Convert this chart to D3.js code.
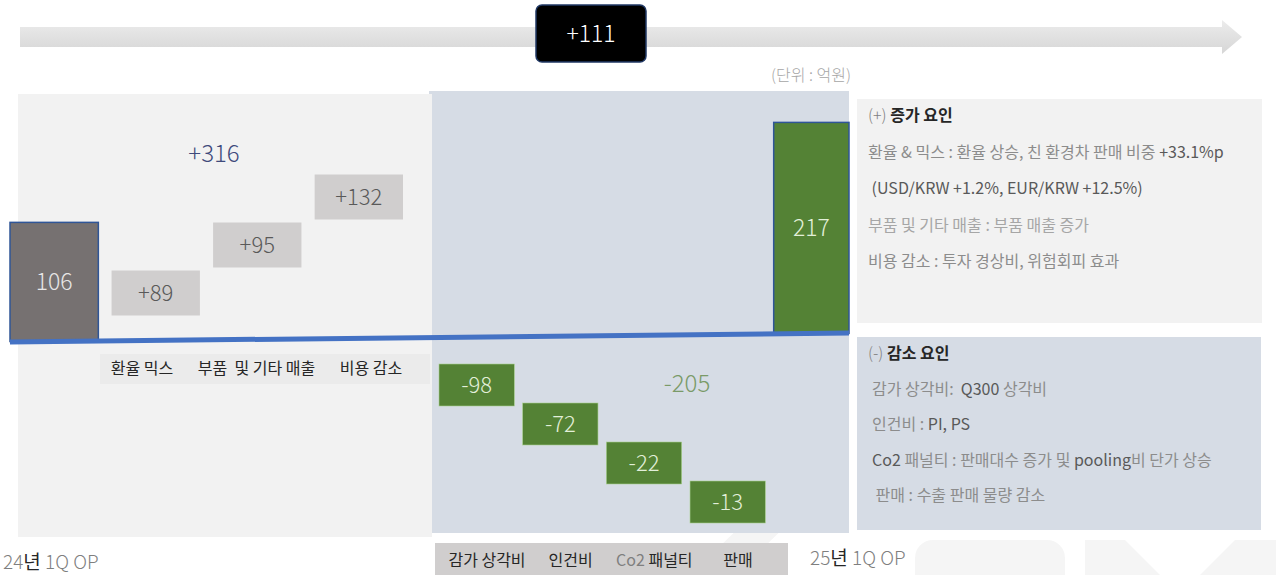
<!DOCTYPE html>
<html>
<head>
<meta charset="utf-8">
<script src="https://cdn.jsdelivr.net/npm/d3@7"></script>
<style>
  body { margin: 0; background: #fff; }
  svg { display: block; font-family: "Noto Sans CJK KR", "Noto Sans", sans-serif; }
</style>
</head>
<body>
<div id="chart"></div>
<script>
// Operating profit bridge, 24년 1Q -> 25년 1Q (단위 : 억원)
const startLabel = "24년 1Q OP";
const endLabel = "25년 1Q OP";
const startValue = 106;
const endValue = 217;
const incCategories = ["환율 믹스", "부품  및 기타 매출", "비용 감소"];
const incValues = [89, 95, 132];
const decCategories = ["감가 상각비", "인건비", "Co2 패널티", "판매"];
const decValues = [-98, -72, -22, -13];
const incTotal = d3.sum(incValues);   // +316
const decTotal = d3.sum(decValues);   // -205
const netChange = endValue - startValue; // +111

const incNotes = [
  [["환율 & 믹스 : 환율 상승, 친 환경차 판매 비중 ", "#8c8c8c"], ["+33.1%p", "#595959"]],
  [[" (USD/KRW +1.2%, EUR/KRW +12.5%)", "#595959"]],
  [["부품 및 기타 매출 : 부품 매출 증가", "#a6a6a6"]],
  [["비용 감소 : 투자 경상비, 위험회피 효과", "#8c8c8c"]]
];
const decNotes = [
  [["감가 상각비:  ", "#8c8c8c"], ["Q300 ", "#595959"], ["상각비", "#8c8c8c"]],
  [["인건비 : ", "#8c8c8c"], ["PI, PS", "#595959"]],
  [["Co2 ", "#595959"], ["패널티 : 판매대수 증가 및 ", "#8c8c8c"], ["pooling", "#595959"], ["비 단가 상승", "#8c8c8c"]],
  [[" 판매 : 수출 판매 물량 감소", "#8c8c8c"]]
];

const width = 1276, height = 575;
const svg = d3.select("#chart").append("svg")
  .attr("width", width).attr("height", height);

// faint logo watermark in the corner
const wm = svg.append("g").attr("fill", "#f5f5f5");
wm.append("path").attr("d", "M690,575 L745,522 L790,522 L735,575 Z");
wm.append("rect").attr("x", 915).attr("y", 540).attr("width", 150).attr("height", 90).attr("rx", 18);
wm.append("path").attr("d", "M1085,540 L1125,540 L1180,595 L1235,540 L1276,540 L1276,575 L1085,575 Z");

// top arrow
const grad = svg.append("defs").append("linearGradient")
  .attr("id", "shaft").attr("x1", 0).attr("y1", 0).attr("x2", 0).attr("y2", 1);
grad.append("stop").attr("offset", "0%").attr("stop-color", "#ececec");
grad.append("stop").attr("offset", "100%").attr("stop-color", "#d6d6d6");
svg.append("path")
  .attr("d", "M20,27 L1222,27 L1222,20 L1242,37 L1222,54 L1222,47 L20,47 Z")
  .attr("fill", "url(#shaft)");

svg.append("rect")
  .attr("x", 536).attr("y", 5).attr("width", 110).attr("height", 57).attr("rx", 6)
  .attr("fill", "#000").attr("stroke", "#203864").attr("stroke-width", 1.5);
svg.append("text")
  .attr("x", 591).attr("y", 42).attr("text-anchor", "middle")
  .attr("font-size", 23).attr("font-weight", 300).attr("fill", "#fff")
  .text((netChange > 0 ? "+" : "") + netChange);

svg.append("text")
  .attr("x", 811).attr("y", 81).attr("text-anchor", "middle")
  .attr("font-size", 16).attr("font-weight", 300).attr("fill", "#a6a6a6")
  .text("(단위 : 억원)");

// panels
svg.append("rect").attr("x", 429).attr("y", 91).attr("width", 420).attr("height", 442).attr("fill", "#d6dce5");
svg.append("rect").attr("x", 18).attr("y", 94).attr("width", 414).attr("height", 443).attr("fill", "#f2f2f2");
svg.append("rect").attr("x", 857).attr("y", 99).attr("width", 405).attr("height", 224).attr("fill", "#f2f2f2");
svg.append("rect").attr("x", 857).attr("y", 337).attr("width", 404).attr("height", 193).attr("fill", "#d6dce5");

// category label bands
svg.append("rect").attr("x", 100).attr("y", 354).attr("width", 330).attr("height", 30).attr("fill", "#ebebeb");
svg.append("rect").attr("x", 435).attr("y", 543).attr("width", 353).attr("height", 32).attr("fill", "#d0cece");

// scales
const leftSteps = ["start", ...incCategories];
const rightSteps = [...decCategories, "end"];
const xLeft = d3.scaleBand().domain(leftSteps).range([10, 403]).paddingInner(0.13);
const xRight = d3.scaleBand().domain(rightSteps).range([439, 849]).paddingInner(0.1);
const incLabelX = d3.scalePoint().domain(incCategories).range([142, 371]);
const decLabelX = d3.scalePoint().domain(decCategories).range([487, 738]);
const baseY = d3.scaleLinear().domain([10, 849]).range([342, 333]);
const hScale = d3.scaleLinear().domain([-38, endValue]).range([0, 211]);
const incY = d3.scaleLinear().domain([0, incValues.length - 1]).range([293, 197]);
const decY = d3.scaleLinear().domain([0, decValues.length - 1]).range([385, 502]);

const numFont = 22;

// start & end totals
const totals = [
  { v: startValue, x: xLeft("start"), w: xLeft.bandwidth(), fill: "#767171", tc: "#e7e6e6" },
  { v: endValue, x: xRight("end"), w: xRight.bandwidth(), fill: "#548235", tc: "#e2efd9" }
];
totals.forEach(d => {
  const b = baseY(d.x + d.w / 2);
  const h = hScale(d.v);
  svg.append("rect")
    .attr("x", d.x).attr("y", b - h).attr("width", d.w).attr("height", h)
    .attr("fill", d.fill).attr("stroke", "#2f5597").attr("stroke-width", 1.5);
  svg.append("text")
    .attr("x", d.x + d.w / 2).attr("y", b - h / 2 + 8).attr("text-anchor", "middle")
    .attr("font-size", numFont + 1).attr("font-weight", 300).attr("fill", d.tc)
    .text(d.v);
});

// baseline
svg.append("line")
  .attr("x1", 10).attr("y1", baseY(10)).attr("x2", 849).attr("y2", baseY(849))
  .attr("stroke", "#4472c4").attr("stroke-width", 5);

// increase boxes
const incBoxH = 45;
incValues.forEach((v, i) => {
  const c = incCategories[i];
  const cy = incY(i);
  svg.append("rect")
    .attr("x", xLeft(c)).attr("y", cy - incBoxH / 2)
    .attr("width", xLeft.bandwidth()).attr("height", incBoxH)
    .attr("fill", "#d0cece");
  svg.append("text")
    .attr("x", xLeft(c) + xLeft.bandwidth() / 2).attr("y", cy + 8).attr("text-anchor", "middle")
    .attr("font-size", numFont).attr("font-weight", 300).attr("fill", "#595959")
    .text("+" + v);
  svg.append("text")
    .attr("x", incLabelX(c)).attr("y", 374).attr("text-anchor", "middle")
    .attr("font-size", 16).attr("fill", "#262626")
    .attr("xml:space", "preserve").style("white-space", "pre")
    .text(c);
});

// decrease boxes
const decBoxH = 42;
decValues.forEach((v, i) => {
  const c = decCategories[i];
  const cy = decY(i);
  svg.append("rect")
    .attr("x", xRight(c)).attr("y", cy - decBoxH / 2)
    .attr("width", xRight.bandwidth()).attr("height", decBoxH)
    .attr("fill", "#548235").attr("stroke", "#a9d18e").attr("stroke-width", 0.6);
  svg.append("text")
    .attr("x", xRight(c) + xRight.bandwidth() / 2).attr("y", cy + 8).attr("text-anchor", "middle")
    .attr("font-size", numFont).attr("font-weight", 300).attr("fill", "#e2efd9")
    .text(v);
  const lbl = svg.append("text")
    .attr("x", decLabelX(c)).attr("y", 566).attr("text-anchor", "middle")
    .attr("font-size", 16).attr("fill", "#262626");
  if (c.startsWith("Co2")) {
    lbl.append("tspan").attr("fill", "#7f7f7f").text("Co2 ");
    lbl.append("tspan").text(c.slice(4));
  } else {
    lbl.text(c);
  }
});

// group totals
svg.append("text")
  .attr("x", 214).attr("y", 162).attr("text-anchor", "middle")
  .attr("font-size", 24).attr("font-weight", 300).attr("fill", "#3f4a7c")
  .text("+" + incTotal);
svg.append("text")
  .attr("x", 687).attr("y", 392).attr("text-anchor", "middle")
  .attr("font-size", 24).attr("font-weight", 300).attr("fill", "#7a9a68")
  .text(decTotal);

// period labels
[[startLabel, 3, 569], [endLabel, 810, 565]].forEach(([t, x, y]) => {
  const [yr, rest] = t.split("년");
  const tx = svg.append("text").attr("x", x).attr("y", y)
    .attr("font-size", 19).attr("font-weight", 300).attr("fill", "#7f7f7f");
  tx.append("tspan").text(yr);
  tx.append("tspan").attr("fill", "#262626").attr("font-weight", 400).text("년");
  tx.append("tspan").text(rest);
});

// factor notes
const drawNotes = (title, sign, notes, x0, y0, xi, dy) => {
  const h = svg.append("text").attr("x", x0).attr("y", y0).attr("font-size", 16);
  h.append("tspan").attr("fill", "#7f7f7f").attr("font-weight", 300).text(sign + " ");
  h.append("tspan").attr("fill", "#262626").attr("font-weight", 700).text(title);
  notes.forEach((parts, i) => {
    const t = svg.append("text").attr("x", xi).attr("y", y0 + dy * (i + 1)).attr("font-size", 16)
      .attr("xml:space", "preserve").style("white-space", "pre");
    parts.forEach(([s, col]) => t.append("tspan").attr("fill", col).text(s));
  });
};
drawNotes("증가 요인", "(+)", incNotes, 868, 121, 868, 36.5);
drawNotes("감소 요인", "(-)", decNotes, 868, 359, 872, 35.5);
</script>
</body>
</html>
